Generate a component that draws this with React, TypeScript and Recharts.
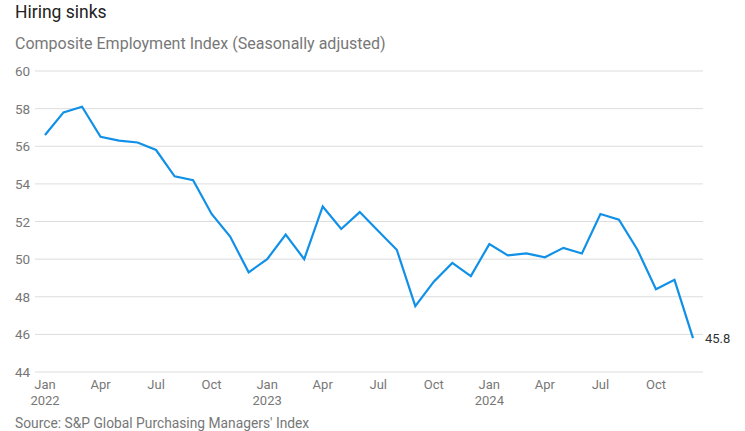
import React from 'react';
import { LineChart, Line, XAxis, YAxis, CartesianGrid } from 'recharts';

const months = [
  'Jan', 'Feb', 'Mar', 'Apr', 'May', 'Jun', 'Jul', 'Aug', 'Sep', 'Oct', 'Nov', 'Dec',
  'Jan', 'Feb', 'Mar', 'Apr', 'May', 'Jun', 'Jul', 'Aug', 'Sep', 'Oct', 'Nov', 'Dec',
  'Jan', 'Feb', 'Mar', 'Apr', 'May', 'Jun', 'Jul', 'Aug', 'Sep', 'Oct', 'Nov', 'Dec',
];
const years = [2022, 2023, 2024];
const employment = [
  56.6, 57.8, 58.1, 56.5, 56.3, 56.2, 55.8, 54.4, 54.2, 52.4, 51.2, 49.3,
  50.0, 51.3, 50.0, 52.8, 51.6, 52.5, 51.5, 50.5, 47.5, 48.8, 49.8, 49.1,
  50.8, 50.2, 50.3, 50.1, 50.6, 50.3, 52.4, 52.1, 50.5, 48.4, 48.9, 45.8,
];
const yTicks = [44, 46, 48, 50, 52, 54, 56, 58, 60];
const shownMonths = ['Jan', 'Apr', 'Jul', 'Oct'];

const data = months.map((m, i) => ({
  key: `${m}-${years[Math.floor(i / 12)]}`,
  month: m,
  year: years[Math.floor(i / 12)],
  value: employment[i],
}));

const FONT = "Roboto, 'Noto Sans', sans-serif";
const LINE = '#1190e8';

const XTick = (props: any) => {
  const { x, y, index } = props;
  const d = data[index];
  if (!d || !shownMonths.includes(d.month)) return null;
  return (
    <g>
      <text x={x} y={y + 17} textAnchor="middle" fill="#777" fontSize={13} fontFamily={FONT}>
        {d.month}
      </text>
      {d.month === 'Jan' && (
        <text x={x} y={y + 33} textAnchor="middle" fill="#777" fontSize={13} fontFamily={FONT}>
          {d.year}
        </text>
      )}
    </g>
  );
};

const YTick = (props: any) => {
  const { y, payload } = props;
  return (
    <text x={15} y={y + 5} textAnchor="start" fill="#777" fontSize={13.5} fontFamily={FONT}>
      {payload.value}
    </text>
  );
};

const LastLabel = (props: any) => {
  const { x, y, index, value } = props;
  if (index !== data.length - 1) return null;
  return (
    <text x={x + 12} y={y + 5} fill="#333" fontSize={13} fontFamily={FONT}>
      {value}
    </text>
  );
};

export default function App() {
  return (
    <div style={{ position: 'absolute', left: 0, top: 0, width: 745, height: 431, background: '#fff', fontFamily: FONT }}>
      <div style={{ position: 'absolute', left: 15, top: 2, fontSize: 17.5, color: '#222' }}>Hiring sinks</div>
      <div style={{ position: 'absolute', left: 15, top: 34, fontSize: 16, color: '#777' }}>
        Composite Employment Index (Seasonally adjusted)
      </div>
      <div style={{ position: 'absolute', left: 15, top: 415, fontSize: 13.8, color: '#777' }}>
        Source: S&amp;P Global Purchasing Managers' Index
      </div>
      <div style={{ position: 'absolute', left: 0, top: 0 }}>
        <LineChart width={745} height={431} data={data} margin={{ top: 71, right: 42, left: 0, bottom: 0 }}>
          <CartesianGrid vertical={false} stroke="#ddd" />
          <XAxis
            dataKey="key"
            height={59}
            interval={0}
            tickLine={false}
            axisLine={false}
            tickSize={0}
            tickMargin={0}
            padding={{ left: 10, right: 10 }}
            tick={<XTick />}
          />
          <YAxis
            width={35}
            domain={[44, 60]}
            ticks={yTicks}
            tickLine={false}
            axisLine={false}
            tick={<YTick />}
          />
          <Line
            type="linear"
            dataKey="value"
            stroke={LINE}
            strokeWidth={2.2}
            dot={false}
            isAnimationActive={false}
            label={<LastLabel />}
          />
        </LineChart>
      </div>
    </div>
  );
}
